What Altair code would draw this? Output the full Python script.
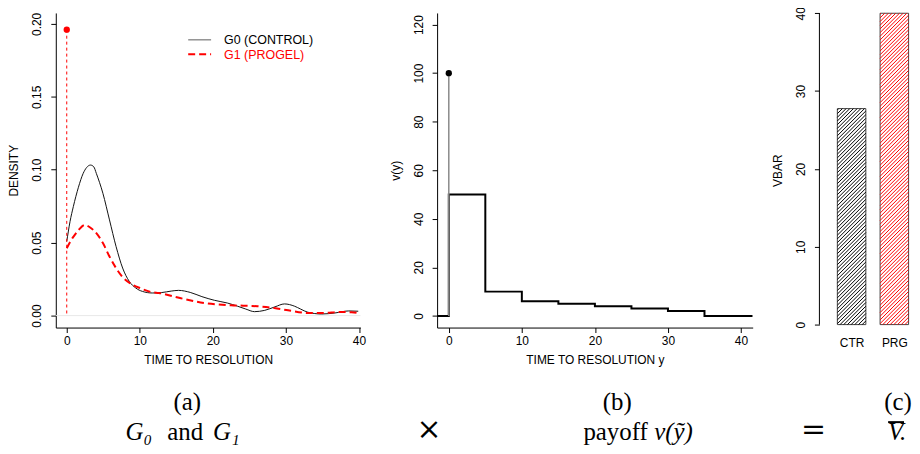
import json
import altair as alt
import pandas as pd
import numpy as np

SANS = "Liberation Sans"
SERIF = "Liberation Serif"

# ---------------- data ----------------
# (a) densities of time to resolution
g0_x = [0, 0.45, 0.9, 1.6, 2.25, 2.7, 3.25, 3.7, 4.05, 4.95, 5.85, 6.75, 7.65, 8.55, 9.45,
        10.35, 11.7, 13.0, 14.3, 15.3, 16.9, 18.5, 20.2, 22.0, 23.4, 24.5, 25.7, 27.1, 28.5,
        29.8, 31.2, 32.0, 33.0, 34.9, 36.7, 38.6, 39.9]
g0_y = [0.0508, 0.0645, 0.0747, 0.088, 0.0975, 0.1014, 0.1032, 0.102, 0.0975, 0.0838, 0.0656,
        0.0474, 0.0326, 0.0235, 0.0189, 0.0166, 0.0155, 0.0158, 0.0168, 0.0173, 0.0159, 0.0130,
        0.0105, 0.0086, 0.0064, 0.0045, 0.0027, 0.0036, 0.0060, 0.0080, 0.0064, 0.0045, 0.0023,
        0.0011, 0.0018, 0.0032, 0.0030]
g1_x = [0, 0.9, 1.6, 2.5, 3.15, 4.05, 4.95, 5.85, 6.75, 7.65, 9.0, 10.0, 11.7, 12.6, 15.5,
        18.8, 22.5, 26.1, 28.4, 30.3, 33.0, 35.3, 37.2, 39.0, 40.2]
g1_y = [0.0462, 0.054, 0.0585, 0.0622, 0.0606, 0.0565, 0.0497, 0.0405, 0.0326, 0.0264, 0.0212,
        0.0189, 0.016, 0.0155, 0.012, 0.0086, 0.0071, 0.0064, 0.0052, 0.0036, 0.0018, 0.0018,
        0.0025, 0.0023, 0.0014]
atom_x = [0]
atom_g1 = [0.196]
legend_labels = ["G0 (CONTROL)", "G1 (PROGEL)"]

# (b) payoff step function
pay_x = [0, 5, 10, 15, 20, 25, 30, 35]
pay_v = [50, 10, 6, 5, 4, 3, 2, 0]
pay_atom_x = [0]
pay_atom_v = [100]

# (c) expected value bars
bar_names = ["CTR", "PRG"]
bar_vals = [27.75, 40.0]
bar_colors = ["black", "red"]

# captions
cap_letters = ["(a)", "(b)", "(c)"]

# ---------------- layout constants ----------------
W_A, W_B, W_C, H = 306, 317, 93, 316
AX_DOM, AY_DOM = [-1.5, 40.2], [-0.0082, 0.2075]
BX_DOM, BY_DOM = [-1.6, 41.6], [-4.8, 124.8]
CX_DOM, CY_DOM = [-0.13, 3.12], [-0.38, 40.04]

# ---------------- panel (a) ----------------
xa = alt.X("x:Q", scale=alt.Scale(domain=AX_DOM, nice=False, zero=False),
           axis=alt.Axis(values=[0, 10, 20, 30, 40], format="d", title="TIME TO RESOLUTION"))
ya = alt.Y("y:Q", scale=alt.Scale(domain=AY_DOM, nice=False, zero=False),
           axis=alt.Axis(values=[0, 0.05, 0.1, 0.15, 0.2], format=".2f", title="DENSITY"))

zero_a = alt.Chart(pd.DataFrame({"y": [0]})).mark_rule(color="#e8e8e8", strokeWidth=1).encode(y=ya)
line0 = alt.Chart(pd.DataFrame({"x": g0_x, "y": g0_y})).mark_line(
    color="#111", strokeWidth=1, interpolate="monotone").encode(x=xa, y=ya)
line1 = alt.Chart(pd.DataFrame({"x": g1_x, "y": g1_y})).mark_line(
    color="red", strokeWidth=2, strokeDash=[7, 4], interpolate="monotone").encode(x=xa, y=ya)
atom_df = pd.DataFrame({"x": atom_x, "y": atom_g1, "y0": [0]})
atom_rule = alt.Chart(atom_df).mark_rule(color="red", strokeDash=[3, 3], strokeWidth=1).encode(
    x=xa, y=ya, y2="y0:Q")
atom_pt = alt.Chart(atom_df).mark_point(filled=True, color="red", size=40, opacity=1).encode(x=xa, y=ya)

leg_l0 = alt.Chart(pd.DataFrame({"k": [0]})).mark_rule(color="#777", strokeWidth=1.2).encode(
    x=alt.value(133), x2=alt.value(156), y=alt.value(27))
leg_l1 = alt.Chart(pd.DataFrame({"k": [0]})).mark_rule(color="red", strokeWidth=2, strokeDash=[7, 4]).encode(
    x=alt.value(133), x2=alt.value(156), y=alt.value(41.5))
leg_t0 = alt.Chart(pd.DataFrame({"t": [legend_labels[0]]})).mark_text(
    align="left", baseline="middle", font=SANS, fontSize=12.5, color="black").encode(
    x=alt.value(169), y=alt.value(27), text="t:N")
leg_t1 = alt.Chart(pd.DataFrame({"t": [legend_labels[1]]})).mark_text(
    align="left", baseline="middle", font=SANS, fontSize=12.5, color="red").encode(
    x=alt.value(169), y=alt.value(42), text="t:N")

panel_a = alt.layer(zero_a, line0, line1, atom_rule, atom_pt, leg_l0, leg_l1, leg_t0, leg_t1).properties(
    width=W_A, height=H)

# ---------------- panel (b) ----------------
xb = alt.X("x:Q", scale=alt.Scale(domain=BX_DOM, nice=False, zero=False),
           axis=alt.Axis(values=[0, 10, 20, 30, 40], format="d", title="TIME TO RESOLUTION y"))
yb = alt.Y("v:Q", scale=alt.Scale(domain=BY_DOM, nice=False, zero=False),
           axis=alt.Axis(values=[0, 20, 40, 60, 80, 100, 120], format="d", title="v(y)"))
step_df = pd.DataFrame({"x": [BX_DOM[0]] + pay_x + [BX_DOM[1]],
                        "v": [0] + pay_v + [pay_v[-1]]})
step_line = alt.Chart(step_df).mark_line(color="black", strokeWidth=2, interpolate="step-after",
                                         clip=True).encode(x=xb, y=yb)
patom_df = pd.DataFrame({"x": pay_atom_x, "v": pay_atom_v, "v0": [0]})
patom_rule = alt.Chart(patom_df).mark_rule(color="#8a8a8a", strokeWidth=1.5).encode(x=xb, y=yb, y2="v0:Q")
patom_pt = alt.Chart(patom_df).mark_point(filled=True, color="black", size=40, opacity=1).encode(x=xb, y=yb)
panel_b = alt.layer(step_line, patom_rule, patom_pt).properties(width=W_B, height=H)

# ---------------- panel (c) ----------------
lefts = [0.5 + 1.5 * i for i in range(len(bar_names))]
centers = [l + 0.5 for l in lefts]
bars_df = pd.DataFrame({"name": bar_names, "l": lefts, "r": [l + 1 for l in lefts],
                        "v": bar_vals, "z": [0] * len(bar_names)})
label_map = {f"{c:g}": n for c, n in zip(centers, bar_names)}
xc_scale = alt.Scale(domain=CX_DOM, nice=False, zero=False)
yc_scale = alt.Scale(domain=CY_DOM, nice=False, zero=False)
xc_axis = alt.Axis(values=centers, labelExpr=f"{json.dumps(label_map)}[datum.value]",
                   domain=False, ticks=False, tickSize=0, labelPadding=10, title=None)
yc_axis = alt.Axis(values=[0, 10, 20, 30, 40], format="d", domain=False, title="VBAR")

# hatch lines (45 degrees on screen), clipped to each bar
kx = W_C / (CX_DOM[1] - CX_DOM[0])
ky = H / (CY_DOM[1] - CY_DOM[0])
spacing = 3.7
hrows = []
for name, l, v in zip(bar_names, lefts, bar_vals):
    px0, px1 = (l - CX_DOM[0]) * kx, (l + 1 - CX_DOM[0]) * kx
    py0, py1 = (0 - CY_DOM[0]) * ky, (v - CY_DOM[0]) * ky
    c = py0 - px1
    while c < py1 - px0:
        s = max(px0, py0 - c)
        e = min(px1, py1 - c)
        if e > s:
            hrows.append({"name": name,
                          "l": s / kx + CX_DOM[0], "hx2": e / kx + CX_DOM[0],
                          "v": (s + c) / ky + CY_DOM[0], "hy2": (e + c) / ky + CY_DOM[0]})
        c += spacing
hatch_df = pd.DataFrame(hrows)

xc = alt.X("l:Q", scale=xc_scale, axis=xc_axis)
yc = alt.Y("v:Q", scale=yc_scale, axis=yc_axis)

hatch = alt.Chart(hatch_df).mark_rule(strokeWidth=1).encode(
    x=xc, x2="hx2:Q", y=yc, y2="hy2:Q",
    color=alt.Color("name:N", scale=alt.Scale(domain=bar_names, range=bar_colors), legend=None))
outline = alt.Chart(bars_df).mark_rect(fillOpacity=0, stroke="#444", strokeWidth=1).encode(
    x=xc, x2="r:Q", y=yc, y2="z:Q")
yaxis_line = alt.Chart(pd.DataFrame({"v": [0], "top": [40]})).mark_rule(color="black", strokeWidth=1).encode(
    x=alt.value(0), y=yc, y2="top:Q")
panel_c = alt.layer(outline, hatch, yaxis_line).properties(width=W_C, height=H)

# ---------------- captions ----------------
CAP_H = 80
def cap(text, x, y, align="center", style="normal", size=25, baseline="alphabetic", font=SERIF):
    return alt.Chart(pd.DataFrame({"t": [text]})).mark_text(
        x=x, y=y, align=align, baseline=baseline, font=font, fontSize=size,
        fontStyle=style, color="black", clip=True).encode(text="t:N")

overline = alt.Chart(pd.DataFrame({"k": [0]})).mark_rule(color="black", strokeWidth=2).encode(
    x=alt.value(836), x2=alt.value(852), y=alt.value(57))

caps = alt.layer(
    cap(cap_letters[0], 132, 45),
    cap(cap_letters[1], 564, 45),
    cap(cap_letters[2], 846, 45),
    cap("G\u2080", 70, 75, align="left", style="italic"),
    cap("and", 112, 75, align="left"),
    cap("G\u2081", 158, 75, align="left", style="italic"),
    cap("\u00d7", 375, 65, size=30, baseline="middle", font="DejaVu Serif"),
    cap("payoff", 594.7, 75, align="right"),
    cap("v(\u1ef9)", 601, 75, align="left", style="italic"),
    cap("=", 761, 65, size=30, baseline="middle", font="DejaVu Serif"),
    cap("V.", 836, 75, align="left", style="italic"),
    overline,
).properties(width=860, height=CAP_H)

top = alt.hconcat(alt.hconcat(panel_a, panel_b, spacing=23), panel_c, spacing=19)

chart = alt.vconcat(top, caps, spacing=0).properties(
    padding={"left": 0, "top": -3, "right": 0, "bottom": 0}
).configure_view(stroke=None).configure_axis(
    domainColor="black", tickColor="black", labelColor="black", titleColor="black",
    labelFont=SANS, titleFont=SANS, labelFontSize=12, titleFontSize=12,
    titleFontWeight="normal", tickSize=5, grid=False, domainWidth=1, tickWidth=1
).configure_axisX(labelPadding=3, titlePadding=8).configure_axisY(
    labelAngle=-90, labelAlign="center", labelBaseline="bottom", labelPadding=7, titlePadding=10)

chart.save("out.html", embed_options={"renderer": "svg", "actions": False})
